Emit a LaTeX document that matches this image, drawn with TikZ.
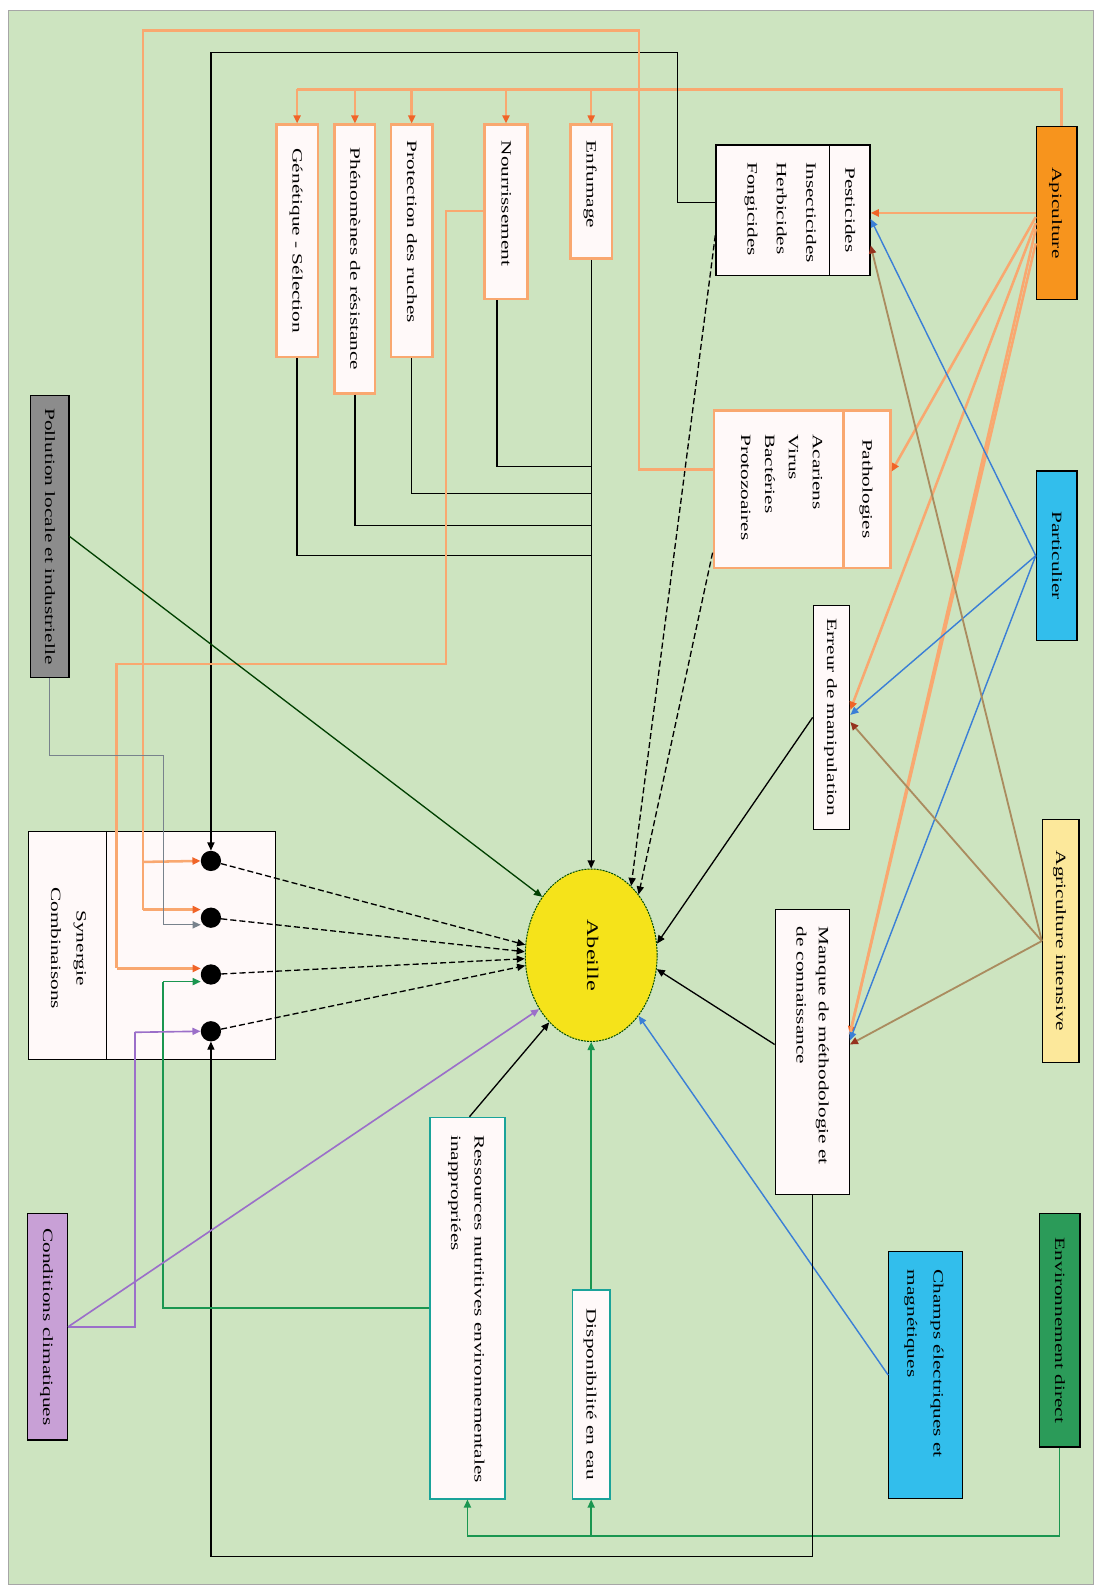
\documentclass[tikz,border=0pt]{standalone}
\usepackage{fontspec}
\setmainfont{Liberation Serif}
\usetikzlibrary{arrows.meta,calc,shapes.geometric}
\definecolor{bg}{RGB}{205,228,192}
\definecolor{apiC}{RGB}{247,148,29}
\definecolor{cyanC}{RGB}{50,190,236}
\definecolor{agrC}{RGB}{252,232,155}
\definecolor{envC}{RGB}{43,155,89}
\definecolor{polC}{RGB}{140,140,140}
\definecolor{condC}{RGB}{200,160,214}
\definecolor{boxW}{RGB}{255,249,249}
\definecolor{orangeL}{RGB}{249,168,112}
\definecolor{orangeD}{RGB}{240,100,40}
\definecolor{blueL}{RGB}{59,127,214}
\definecolor{brownL}{RGB}{170,140,95}
\definecolor{brownD}{RGB}{150,50,30}
\definecolor{greenL}{RGB}{26,150,80}
\definecolor{tealC}{RGB}{26,163,154}
\definecolor{purpleL}{RGB}{155,111,201}
\definecolor{grayL}{RGB}{120,130,140}
\definecolor{beeC}{RGB}{245,227,26}
\newcommand{\vtext}[2][1]{\rotatebox{-90}{\scalebox{1.5}[1]{\renewcommand{\arraystretch}{#1}\begin{tabular}{@{}l@{}}#2\end{tabular}}}}
\newcommand{\vtextc}[2][1]{\rotatebox{-90}{\scalebox{1.5}[1]{\renewcommand{\arraystretch}{#1}\begin{tabular}{@{}c@{}}#2\end{tabular}}}}
\begin{document}
\begin{tikzpicture}[x=1pt,y=-1pt,
  bx/.style={draw=black, line width=1.2pt, fill=boxW, inner sep=0pt},
  obx/.style={draw=orangeL, line width=2.5pt, fill=boxW, inner sep=0pt},
  tbx/.style={draw=tealC, line width=1.5pt, fill=boxW, inner sep=0pt},
  tx/.style={inner sep=0pt, font=\fontsize{14}{22}\selectfont},
  txt/.style={tx, anchor=north},
  arr/.style={-{Triangle[length=8pt,width=7pt]}},
  oarr/.style={-{Triangle[length=8pt,width=7pt,color=orangeD]}},
  barr/.style={-{Triangle[length=8pt,width=7pt,color=blueL]}},
  brarr/.style={-{Triangle[length=8pt,width=7pt,color=brownD]}},
  garr/.style={-{Triangle[length=8pt,width=7pt,color=greenL]}},
  parr/.style={-{Triangle[length=8pt,width=7pt,color=purpleL]}},
  grarr/.style={-{Triangle[length=8pt,width=7pt,color=grayL]}},
  oline/.style={draw=orangeL, line width=2.5pt},
  bline/.style={draw=blueL, line width=1.4pt},
  brline/.style={draw=brownL, line width=1.8pt},
  kline/.style={draw=black, line width=1.3pt},
  kdash/.style={draw=black, line width=1.3pt, dash pattern=on 6pt off 3pt},
  gline/.style={draw=greenL, line width=1.6pt},
  pline/.style={draw=purpleL, line width=1.6pt},
  grline/.style={draw=grayL, line width=1.3pt},
  dot/.style={circle, fill=black, minimum size=20pt, inner sep=0pt}
]
\useasboundingbox (0,0) rectangle (1080,1568);
\fill[white] (0,0) rectangle (1080,1568);
\draw[fill=bg, draw=gray!70, line width=0.8pt] (8,10) rectangle (1078,1562);

% ---------- source boxes (right) ----------
\node[bx, fill=apiC, minimum width=40pt, minimum height=170pt] (api) at (1042,210) {};
\node[tx] (apit) at (api.center) {\vtext{Apiculture}};
\node[bx, fill=cyanC, minimum width=40pt, minimum height=167pt] (part) at (1042,548) {};
\node[tx] (partt) at (part.center) {\vtext{Particulier}};
\node[bx, fill=agrC, minimum width=36pt, minimum height=240pt] (agr) at (1046,928) {};
\node[tx] (agrt) at (agr.center) {\vtext{Agriculture intensive}};
\node[bx, fill=envC, minimum width=40pt, minimum height=230pt] (env) at (1045,1312) {};
\node[tx] (envt) at (env.center) {\vtext{Environnement direct}};
\node[bx, fill=cyanC, minimum width=73pt, minimum height=243pt] (champ) at (913,1356) {};
\node[txt] (champt) at ([yshift=-18pt]champ.north) {\vtext[1.18]{Champs électriques et\\magnétiques}};

% ---------- Pesticides / Pathologies ----------
\node[bx, minimum width=152pt, minimum height=129pt] (pest) at (782,207.5) {};
\draw[line width=1.2pt] (pest.north -| 818,0) -- (pest.south -| 818,0);
\node[tx] (pesth) at (838,207) {\vtext{Pesticides}};
\node[txt] (pestb) at (772,160) {\vtext[1.32]{Insecticides\\Herbicides\\Fongicides}};
\node[obx, minimum width=174pt, minimum height=155pt] (path) at (791,482.5) {};
\draw[orangeL, line width=2.5pt] (path.north -| 832,0) -- (path.south -| 832,0);
\node[tx] (patht) at (855,482) {\vtext{Pathologies}};
\node[txt] (pathb) at (771,428) {\vtext[1.07]{Acariens\\Virus\\Bactéries\\Protozoaires}};

\node[bx, minimum width=36pt, minimum height=221pt] (err) at (820,707.5) {};
\node[tx] (errt) at (err.center) {\vtext{Erreur de manipulation}};
\node[bx, minimum width=73pt, minimum height=281pt] (man) at (801,1037.5) {};
\node[txt] (mant) at ([yshift=-17pt]man.north) {\vtext{Manque de méthodologie et\\de connaissance}};

% ---------- apiculture practice boxes (top) ----------
\node[obx, minimum width=41pt, minimum height=132pt] (enf) at (583,189) {};
\node[txt] (enft) at ([yshift=-17pt]enf.north) {\vtext{Enfumage}};
\node[obx, minimum width=42pt, minimum height=172pt] (nour) at (499,209) {};
\node[txt] (nourt) at ([yshift=-17pt]nour.north) {\vtext{Nourrissement}};
\node[obx, minimum width=41pt, minimum height=229pt] (prot) at (406,237.5) {};
\node[txt] (prott) at ([yshift=-17pt]prot.north) {\vtext{Protection des ruches}};
\node[obx, minimum width=40pt, minimum height=265pt] (phen) at (350,255.5) {};
\node[tx] (phent) at (phen.center) {\vtext{Phénomènes de résistance}};
\node[obx, minimum width=41pt, minimum height=229pt] (gen) at (293,237.5) {};
\node[tx] (gent) at (gen.center) {\vtext{Génétique - Sélection}};

% ---------- left boxes ----------
\node[bx, fill=polC, minimum width=38pt, minimum height=278pt] (pol) at (49,529) {};
\node[tx] (polt) at (pol.center) {\vtext{Pollution locale et industrielle}};
\node[bx, minimum width=244pt, minimum height=225pt] (syn) at (150,932.5) {};
\draw[line width=1.2pt] (syn.north -| 105,0) -- (syn.south -| 105,0);
\node[tx] (synt) at (68,935) {\vtextc[1.14]{Synergie\\Combinaisons}};
\node[bx, fill=condC, minimum width=39pt, minimum height=223pt] (cond) at (47,1308.5) {};
\node[tx] (condt) at (cond.center) {\vtext{Conditions climatiques}};

% ---------- bottom boxes ----------
\node[tbx, minimum width=74pt, minimum height=376pt] (res) at (461,1290) {};
\node[txt] (rest) at ([yshift=-18pt]res.north) {\vtext[1.05]{Ressources nutritives environnementales\\inappropriées}};
\node[tbx, minimum width=37pt, minimum height=206pt] (dis) at (583,1375) {};
\node[tx] (dist) at (dis.center) {\vtext{Disponibilité en eau}};

% ---------- Abeille ----------
\node[ellipse, draw=black!70!green, dash pattern=on 2pt off 1pt, line width=1pt, fill=beeC, minimum width=130pt, minimum height=170pt, inner sep=0pt] (bee) at (583,942) {};
\node[tx, font=\fontsize{16}{20}\selectfont] (beet) at (bee.center) {\vtext{Abeille}};

% ---------- dots ----------
\node[dot] (d1) at (208,849) {};
\node[dot] (d2) at (208,905) {};
\node[dot] (d3) at (208,961) {};
\node[dot] (d4) at (208,1017) {};

% ---------- Apiculture connections ----------
\draw[oline] ([xshift=5pt]api.north) |- (gen.north |- 0,88);
\foreach \b in {enf,nour,prot,phen,gen}{
  \draw[oline, oarr] (\b.north |- 0,88) -- (\b.north);
}
\draw[oline, oarr] (api.west) -- (pest.east |- 0,210);
\draw[oline, oarr] ([yshift=-4pt]api.west) -- (path.east |- 0,465);
\draw[oline, oarr] ([yshift=-10pt]api.west) -- (err.east |- 0,700);
\draw[oline, oarr] ([yshift=-16pt]api.west) -- (man.east |- 0,1020);
\draw[oline] ([yshift=-30pt]api.west) -- (man.east |- 0,1020);

% ---------- Particulier ----------
\draw[bline, barr] (part.west) -- (pest.east |- 0,216);
\draw[bline, barr] (part.west) -- (err.east |- 0,705);
\draw[bline, barr] (part.west) -- (man.east |- 0,1026);

% ---------- Agriculture intensive ----------
\draw[brline, brarr] (agr.west) -- (pest.east |- 0,242);
\draw[brline, brarr] (agr.west) -- (err.east |- 0,712);
\draw[brline, brarr] (agr.west) -- (man.east |- 0,1030);

% ---------- Environnement direct ----------
\draw[gline] (env.south) |- (res.south |- 0,1515);
\draw[gline, garr] (res.south |- 0,1515) -- (res.south);
\draw[gline, garr] (dis.south |- 0,1515) -- (dis.south);

% ---------- Champs ----------
\draw[bline, barr] (champ.west) -- (bee.-52);

% ---------- Pesticides / Pathologies to synergie & bee ----------
\draw[kline, arr] (pest.west |- 0,200) -| (668,52) -| (d1.north);
\draw[kdash, arr] (pest.west |- 0,232) -- (bee.60);
\draw[kdash, arr] (path.west |- 0,545) -- (bee.52);
\draw[oline] (path.west |- 0,463) -| (630,30) -| (141,897);
\draw[oline, oarr] (141,897) -- (198,897);
\draw[oline, oarr] (141,850) -- (d1.west);

% ---------- Erreur / Manque ----------
\draw[kline, arr] (err.west) -- (bee.10);
\draw[kline, arr] (man.west |- 0,1030) -- (bee.-12);
\draw[kline, arr] (man.south) |- (d4.south |- 0,1535) -- (d4.south);

% ---------- top practice boxes ----------
\draw[kline, arr] (enf.south) -- (bee.north);
\draw[kline] ([xshift=-9pt]nour.south) |- (enf.south |- 0,460);
\draw[kline] (prot.south) |- (enf.south |- 0,487);
\draw[kline] (phen.south) |- (enf.south |- 0,518);
\draw[kline] (gen.south) |- (enf.south |- 0,548);
\draw[oline] (nour.west |- 0,208) -| (440,655) -| (115,955);
\draw[oline, oarr] (115,955) -- (198,955);

% ---------- Pollution ----------
\draw[draw=black!75!green, line width=1.3pt, arr] (pol.east) -- (bee.130);
\draw[grline] (pol.south) |- (161,745) -- (161,912);
\draw[grline, grarr] (161,912) -- (198,912);

% ---------- Ressources / Disponibilite ----------
\draw[kline, arr] ([xshift=2pt]res.north) -- (bee.238);
\draw[gline] (res.west) -| (161,968);
\draw[gline, garr] (161,968) -- (198,968);
\draw[gline, garr] (dis.north) -- (bee.south);

% ---------- Conditions ----------
\draw[pline, parr] (cond.east) -- (bee.226);
\draw[pline] (cond.east) -| (133,1018);
\draw[pline, parr] (133,1018) -- (d4.west);

% ---------- dots to bee ----------
\draw[kdash, arr] (d1) -- (bee.171);
\draw[kdash, arr] (d2) -- (bee.177);
\draw[kdash, arr] (d3) -- (bee.183);
\draw[kdash, arr] (d4) -- (bee.189);
\end{tikzpicture}
\end{document}
